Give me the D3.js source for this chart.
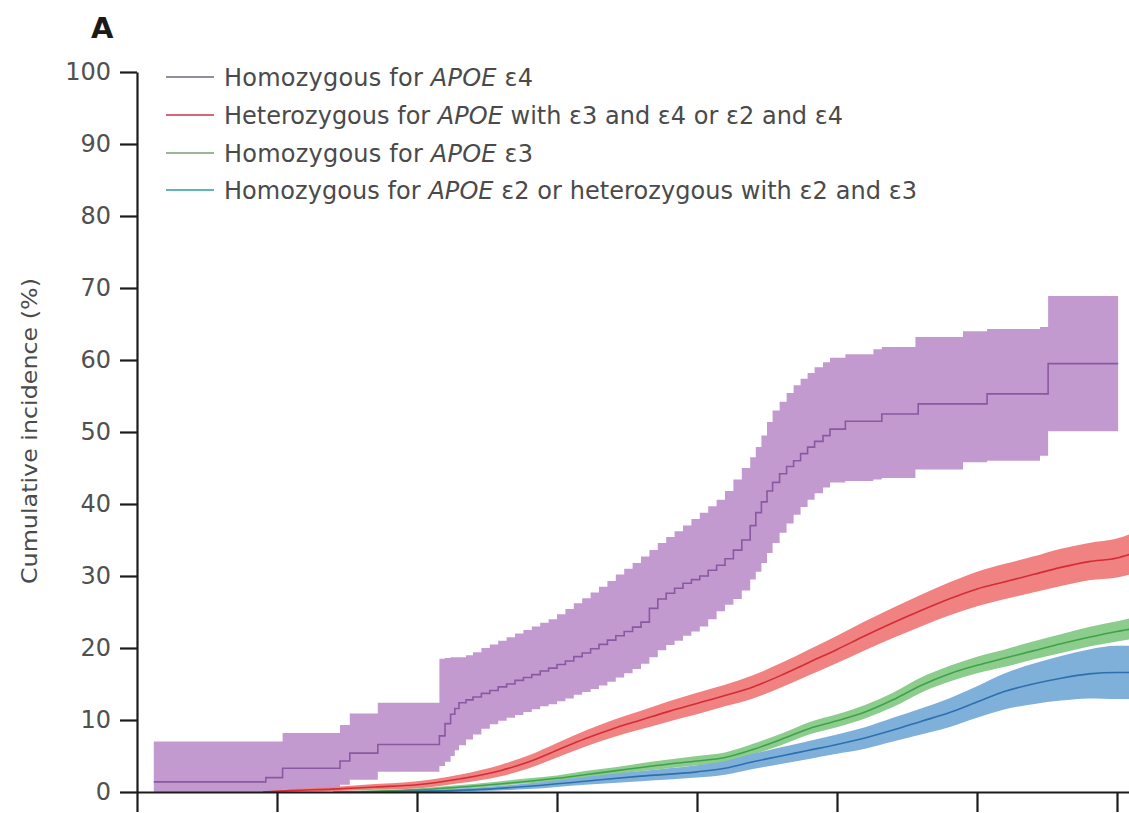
<!DOCTYPE html>
<html>
<head>
<meta charset="utf-8">
<script src="https://cdn.jsdelivr.net/npm/d3@7/dist/d3.min.js"></script>
<style>
  html, body { margin: 0; padding: 0; background: #fff; }
  svg { display: block; }
</style>
</head>
<body>
<svg id="chart" width="1129" height="813"></svg>
<script>
// Axis ticks
const xTickAges = [50, 55, 60, 65, 70, 75, 80, 85];
const yTickValues = [0, 10, 20, 30, 40, 50, 60, 70, 80, 90, 100];

// Homozygous for APOE e4 (Kaplan-Meier step curve with 95% CI)
const e4Age = [50.6, 54.6, 55.2, 57.25, 57.6, 58.6, 60.8, 61.0, 61.2, 61.35, 61.5, 61.75, 62.0, 62.3, 62.6, 62.9, 63.2, 63.5, 63.8, 64.1, 64.4, 64.7, 65.0, 65.3, 65.6, 65.9, 66.2, 66.5, 66.8, 67.1, 67.4, 67.7, 68.0, 68.3, 68.6, 68.9, 69.2, 69.5, 69.8, 70.1, 70.4, 70.7, 71.0, 71.3, 71.6, 71.9, 72.1, 72.3, 72.5, 72.7, 72.95, 73.2, 73.45, 73.7, 73.95, 74.2, 74.5, 74.75, 75.3, 76.3, 76.6, 77.8, 77.9, 79.5, 80.36, 82.25, 82.54, 85.04];
const e4Est = [1.4, 2.0, 3.3, 4.3, 5.4, 6.6, 7.8, 9.5, 10.8, 11.6, 12.4, 12.8, 13.2, 13.7, 14.1, 14.6, 15.0, 15.5, 15.9, 16.3, 16.8, 17.2, 17.7, 18.2, 18.8, 19.3, 19.9, 20.5, 21.1, 21.7, 22.3, 22.9, 23.6, 25.5, 26.8, 27.6, 28.3, 29.0, 29.5, 30.0, 30.8, 31.5, 32.4, 33.6, 35.0, 37.0, 38.8, 40.3, 41.8, 43.0, 44.2, 45.2, 46.0, 47.0, 47.9, 48.7, 49.5, 50.4, 51.5, 51.5, 52.5, 52.5, 53.9, 53.9, 55.3, 55.3, 59.5, 59.5];
const e4Lo  = [0, 0, 0.3, 1.0, 1.7, 2.8, 3.6, 4.2, 5.0, 5.8, 6.5, 7.3, 8.0, 8.8, 9.4, 9.9, 10.3, 10.7, 11.1, 11.5, 11.9, 12.2, 12.6, 13.0, 13.5, 13.9, 14.3, 14.8, 15.3, 15.9, 16.5, 17.1, 17.8, 18.7, 19.7, 20.4, 21.0, 21.7, 22.3, 23.0, 24.0, 25.1, 26.0, 26.8, 28.0, 29.5, 30.6, 31.8, 33.2, 34.6, 36.0, 37.3, 38.5, 39.6, 40.6, 41.5, 42.3, 43.0, 43.2, 43.4, 43.6, 44.8, 44.8, 45.8, 46.0, 46.7, 50.1, 50.1];
const e4Hi  = [7.0, 7.0, 8.2, 9.3, 10.9, 12.4, 18.5, 18.6, 18.7, 18.7, 18.7, 19.0, 19.4, 20.0, 20.5, 21.0, 21.5, 22.0, 22.5, 23.0, 23.5, 24.0, 24.7, 25.4, 26.2, 26.9, 27.7, 28.5, 29.3, 30.2, 31.0, 31.8, 32.7, 33.6, 34.6, 35.4, 36.2, 37.0, 37.9, 38.8, 39.7, 40.6, 41.8, 43.4, 45.0, 46.5, 47.9, 49.5, 51.4, 53.0, 54.2, 55.4, 56.5, 57.4, 58.2, 59.0, 59.7, 60.3, 60.8, 61.5, 61.8, 63.2, 63.2, 64.0, 64.3, 64.6, 68.9, 68.9];

// Heterozygous: e3/e4 or e2/e4
const hetAge = [54.5, 55.5, 57, 58.5, 60, 61.5, 63, 64, 65, 66, 67, 68, 69, 70, 71, 72, 73, 74, 75, 76, 77, 78, 79, 80, 81, 82, 83, 84, 85, 85.45];
const hetEst = [0, 0.2, 0.4, 0.7, 1.0, 1.8, 3.0, 4.2, 5.8, 7.4, 8.8, 10.0, 11.2, 12.3, 13.4, 14.6, 16.2, 18.0, 19.8, 21.7, 23.5, 25.2, 26.8, 28.2, 29.2, 30.2, 31.2, 32.0, 32.5, 33.0];
const hetLo  = [0, 0, 0.1, 0.3, 0.5, 1.2, 2.2, 3.3, 4.8, 6.3, 7.6, 8.7, 9.8, 10.8, 11.9, 13.0, 14.5, 16.2, 17.9, 19.7, 21.4, 23.0, 24.5, 25.8, 26.8, 27.7, 28.6, 29.4, 29.8, 30.2];
const hetHi  = [0, 0.4, 0.7, 1.1, 1.5, 2.4, 3.8, 5.1, 6.8, 8.5, 10.0, 11.3, 12.6, 13.8, 14.9, 16.2, 17.9, 19.8, 21.7, 23.7, 25.6, 27.4, 29.1, 30.6, 31.7, 32.7, 33.8, 34.6, 35.2, 35.8];

// Homozygous for APOE e3
const e3Age = [57, 60, 62, 64, 65, 66, 67, 68, 69, 70, 71, 72, 73, 74, 75, 76, 77, 78, 79, 80, 81, 82, 83, 84, 85, 85.45];
const e3Est = [0, 0.3, 0.8, 1.5, 1.9, 2.4, 2.9, 3.4, 3.9, 4.3, 4.8, 5.9, 7.3, 8.8, 9.9, 11.1, 12.8, 14.8, 16.4, 17.6, 18.6, 19.6, 20.6, 21.5, 22.3, 22.6];
const e3Lo  = [0, 0.2, 0.6, 1.2, 1.5, 2.0, 2.4, 2.9, 3.3, 3.7, 4.1, 5.2, 6.5, 8.0, 9.0, 10.2, 11.8, 13.8, 15.3, 16.5, 17.4, 18.4, 19.3, 20.2, 20.9, 21.2];
const e3Hi  = [0, 0.5, 1.1, 1.9, 2.3, 2.9, 3.4, 4.0, 4.5, 5.0, 5.5, 6.7, 8.1, 9.7, 10.8, 12.1, 13.8, 15.9, 17.5, 18.8, 19.8, 20.9, 21.9, 22.9, 23.7, 24.1];

// Homozygous for APOE e2 or heterozygous e2/e3
const e2Age = [58, 62, 64, 66, 68, 70, 71, 72, 73, 74, 75, 76, 77, 78, 79, 80, 81, 82, 83, 84, 85, 85.45];
const e2Est = [0, 0.3, 0.8, 1.5, 2.2, 2.8, 3.3, 4.2, 5.0, 5.8, 6.6, 7.5, 8.6, 9.8, 11.0, 12.5, 14.0, 15.0, 15.8, 16.4, 16.6, 16.6];
const e2Lo  = [0, 0.1, 0.4, 1.0, 1.5, 2.0, 2.4, 3.2, 3.9, 4.6, 5.3, 6.0, 7.0, 8.0, 9.0, 10.3, 11.5, 12.2, 12.7, 13.0, 12.9, 12.9];
const e2Hi  = [0, 0.6, 1.2, 2.1, 2.9, 3.7, 4.3, 5.3, 6.2, 7.1, 8.0, 9.0, 10.3, 11.6, 13.0, 14.7, 16.5, 17.8, 18.9, 19.8, 20.3, 20.3];

// Legend entries: plain text before/after the italic gene name
const legendPre  = ["Homozygous for ", "Heterozygous for ", "Homozygous for ", "Homozygous for "];
const legendPost = [" \u03b54", " with \u03b53 and \u03b54 or \u03b52 and \u03b54", " \u03b53", " \u03b52 or heterozygous with \u03b52 and \u03b53"];
const legendWidths = [309, 619, 309, 693];
const legendColors = ["#6e6484", "#c8344a", "#7c9c70", "#2e9c9c"];

const svg = d3.select("#chart");

const x = d3.scaleLinear().domain([50, 86]).range([137, 1145]);
const y = d3.scaleLinear().domain([0, 100]).range([792, 72]);

function rows(age, est, lo, hi) {
  return age.map((a, i) => ({ a, e: est[i], l: lo[i], h: hi[i] }));
}

const series = [
  { data: rows(e4Age, e4Est, e4Lo, e4Hi), fill: "#c39ad0", line: "#8a58a0", curve: d3.curveStepAfter },
  { data: rows(hetAge, hetEst, hetLo, hetHi), fill: "#f08282", line: "#d42c34", curve: d3.curveMonotoneX },
  { data: rows(e3Age, e3Est, e3Lo, e3Hi), fill: "#8ccc8c", line: "#3fa24a", curve: d3.curveMonotoneX },
  { data: rows(e2Age, e2Est, e2Lo, e2Hi), fill: "#7eb0da", line: "#2f6fae", curve: d3.curveMonotoneX }
];

const plot = svg.append("g");

// Confidence bands
series.forEach(s => {
  plot.append("path")
    .datum(s.data)
    .attr("fill", s.fill)
    .attr("d", d3.area().curve(s.curve)
      .x(d => x(d.a)).y0(d => y(d.l)).y1(d => y(d.h)));
});

// Estimate lines
series.forEach(s => {
  plot.append("path")
    .datum(s.data)
    .attr("fill", "none")
    .attr("stroke", s.line)
    .attr("stroke-width", 1.6)
    .attr("d", d3.line().curve(s.curve).x(d => x(d.a)).y(d => y(d.e)));
});

// Axes
const yAxis = svg.append("g")
  .attr("transform", "translate(137,0)")
  .call(d3.axisLeft(y).tickValues(yTickValues).tickSize(17).tickSizeOuter(0).tickPadding(9));
const xAxis = svg.append("g")
  .attr("transform", "translate(0,792)")
  .call(d3.axisBottom(x).tickValues(xTickAges).tickSize(20).tickSizeOuter(0).tickFormat(""));

[yAxis, xAxis].forEach(g => {
  g.selectAll("path.domain").attr("stroke", "#1c1c1c").attr("stroke-width", 2.2);
  g.selectAll(".tick line").attr("stroke", "#1c1c1c").attr("stroke-width", 2.2);
});
yAxis.selectAll(".tick text")
  .attr("fill", "#505050")
  .style("font-family", "'DejaVu Sans', sans-serif")
  .style("font-size", "24px");

// Y axis title
svg.append("text")
  .attr("transform", "translate(37,431) rotate(-90)")
  .attr("text-anchor", "middle")
  .attr("fill", "#4a4a4a")
  .style("font-family", "'DejaVu Sans', sans-serif")
  .style("font-size", "21px")
  .attr("textLength", 306)
  .attr("lengthAdjust", "spacingAndGlyphs")
  .text("Cumulative incidence (%)");

// Panel letter
svg.append("text")
  .attr("x", 91).attr("y", 38)
  .attr("fill", "#1a1a1a")
  .style("font-family", "'DejaVu Sans', sans-serif")
  .style("font-size", "29px")
  .style("font-weight", "bold")
  .text("A");

// Legend
const legendY = [77, 115, 153, 190];
const legend = svg.append("g");
legendPre.forEach((pre, i) => {
  legend.append("line")
    .attr("x1", 166).attr("x2", 214)
    .attr("y1", legendY[i]).attr("y2", legendY[i])
    .attr("stroke", legendColors[i]).attr("stroke-width", 1.6);
  const t = legend.append("text")
    .attr("x", 224).attr("y", legendY[i] + 9)
    .attr("fill", "#4a4a4a")
    .style("font-family", "'DejaVu Sans', sans-serif")
    .style("font-size", "24px")
    .attr("textLength", legendWidths[i])
    .attr("lengthAdjust", "spacing");
  t.append("tspan").text(pre);
  t.append("tspan").style("font-style", "italic").text("APOE");
  t.append("tspan").text(legendPost[i]);
});
</script>
</body>
</html>
